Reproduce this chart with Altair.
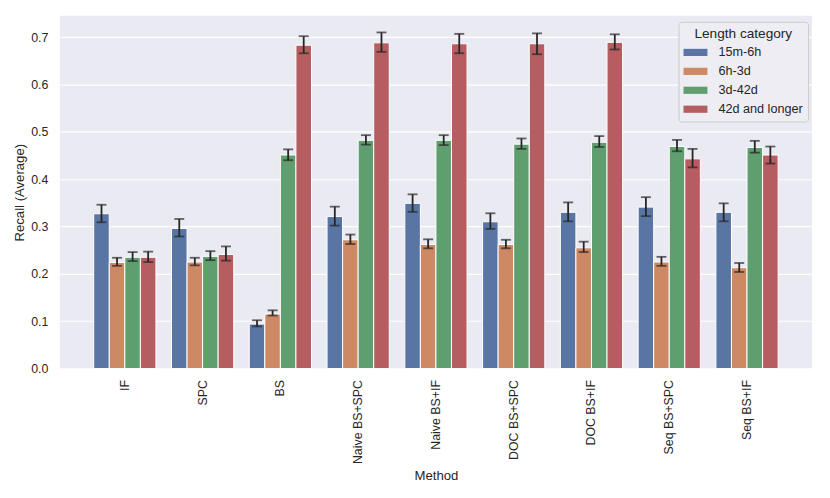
import altair as alt
import pandas as pd

methods = ["IF", "SPC", "BS", "Naive BS+SPC", "Naive BS+IF", "DOC BS+SPC",
           "DOC BS+IF", "Seq BS+SPC", "Seq BS+IF"]
categories = ["15m-6h", "6h-3d", "3d-42d", "42d and longer"]
colors = ["#5975A4", "#CC8963", "#5F9E6E", "#B55D60"]

# mean recall per category, one entry per method
recall = {
    "15m-6h":         [0.327, 0.296, 0.094, 0.321, 0.349, 0.310, 0.330, 0.341, 0.330],
    "6h-3d":          [0.224, 0.225, 0.115, 0.272, 0.262, 0.262, 0.255, 0.225, 0.213],
    "3d-42d":         [0.235, 0.237, 0.451, 0.482, 0.482, 0.474, 0.478, 0.469, 0.467],
    "42d and longer": [0.235, 0.241, 0.683, 0.688, 0.686, 0.686, 0.689, 0.443, 0.451],
}
low = {
    "15m-6h":         [0.309, 0.279, 0.089, 0.302, 0.331, 0.295, 0.311, 0.322, 0.311],
    "6h-3d":          [0.217, 0.218, 0.112, 0.263, 0.254, 0.254, 0.246, 0.217, 0.204],
    "3d-42d":         [0.227, 0.229, 0.440, 0.473, 0.472, 0.464, 0.468, 0.459, 0.456],
    "42d and longer": [0.225, 0.228, 0.666, 0.669, 0.666, 0.664, 0.674, 0.425, 0.433],
}
high = {
    "15m-6h":         [0.346, 0.316, 0.102, 0.342, 0.368, 0.328, 0.351, 0.362, 0.349],
    "6h-3d":          [0.234, 0.234, 0.123, 0.283, 0.273, 0.272, 0.268, 0.236, 0.223],
    "3d-42d":         [0.246, 0.248, 0.463, 0.493, 0.493, 0.486, 0.491, 0.483, 0.481],
    "42d and longer": [0.247, 0.258, 0.702, 0.710, 0.707, 0.708, 0.706, 0.464, 0.469],
}

rows = []
for c in categories:
    for i, m in enumerate(methods):
        rows.append({"Method": m, "Length category": c,
                     "recall": recall[c][i], "lo": low[c][i], "hi": high[c][i]})
df = pd.DataFrame(rows)

FONT = "Liberation Sans"
TXT = "#262626"

x_enc = alt.X("Method:N", sort=methods,
              scale=alt.Scale(paddingInner=0.2, paddingOuter=0.436),
              axis=alt.Axis(title="Method", labelAngle=-90, labelPadding=11, grid=False,
                            titleY=107, titleBaseline="middle"))
xo_enc = alt.XOffset("Length category:N", sort=categories,
                     scale=alt.Scale(paddingInner=0, paddingOuter=0))

base = alt.Chart(df)

bars = base.mark_bar(stroke="white", strokeWidth=1).encode(
    x=x_enc,
    xOffset=xo_enc,
    y=alt.Y("recall:Q",
            scale=alt.Scale(domain=[0, 0.745], nice=False, zero=True),
            axis=alt.Axis(title="Recall (Average)", values=[0, 0.1, 0.2, 0.3, 0.4, 0.5, 0.6, 0.7],
                          format=".1f", labelPadding=12, titleX=-40, titleBaseline="middle")),
    color=alt.Color("Length category:N", sort=categories,
                    scale=alt.Scale(domain=categories, range=colors),
                    legend=alt.Legend(
                        title="Length category", orient="none", legendX=621, legendY=6,
                        fillColor="#EDEDF3", strokeColor="#CCCCCC", cornerRadius=3,
                        padding=5, titleFontSize=13.7, titleFontWeight="normal",
                        titleColor=TXT, titleAnchor="middle", titlePadding=0,
                        labelFontSize=12.7, labelColor=TXT, labelOffset=11,
                        symbolType="M-1,-0.3L1,-0.3L1,0.3L-1,0.3Z", symbolSize=576,
                        symbolStrokeWidth=0, symbolOpacity=1, rowPadding=-2)),
)

rules = base.mark_rule(color="#262626", strokeWidth=1.8).encode(
    x=x_enc, xOffset=xo_enc, y="lo:Q", y2="hi:Q")

caps_lo = base.mark_tick(color="#262626", thickness=1.8, size=10).encode(
    x=x_enc, xOffset=xo_enc, y="lo:Q")
caps_hi = base.mark_tick(color="#262626", thickness=1.8, size=10).encode(
    x=x_enc, xOffset=xo_enc, y="hi:Q")

chart = alt.layer(bars, rules, caps_lo, caps_hi).properties(
    width=755, height=354,
    autosize=alt.AutoSizeParams(type="none"),
    padding={"left": 52, "top": 7, "right": 10, "bottom": 120},
).configure(
    font=FONT, background="white"
).configure_view(
    fill="#EAEAF2", stroke=None
).configure_axis(
    domain=False, ticks=False, grid=True, gridColor="white", gridWidth=1.2,
    labelFont=FONT, labelFontSize=12.4, labelColor=TXT,
    titleFont=FONT, titleFontSize=13.2, titleFontWeight="normal", titleColor=TXT,
).configure_legend(
    labelFont=FONT, titleFont=FONT
)

chart.save("out.html", embed_options={"renderer": "svg", "actions": False})
